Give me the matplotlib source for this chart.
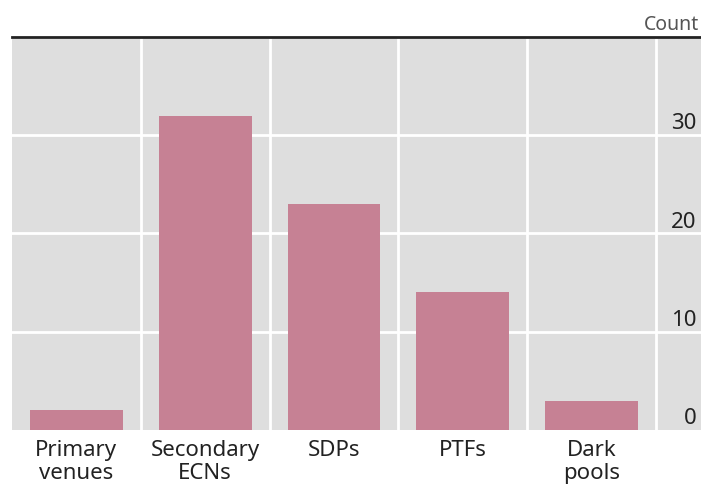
import numpy as np
import matplotlib
matplotlib.use("Agg")
import matplotlib.pyplot as plt
import matplotlib.transforms as mtransforms

plt.rcParams['font.family'] = ['Noto Sans', 'DejaVu Sans']

categories = ["Primary\nvenues", "Secondary\nECNs", "SDPs", "PTFs", "Dark\npools"]
counts = [2, 32, 23, 14, 3]
y_ticks = [0, 10, 20, 30]
unit_label = "Count"

bar_color = "#c68194"
panel_grey = "#dedede"

fig = plt.figure(figsize=(7.01, 4.92), dpi=100)
ax = fig.add_axes([12 / 701, 62 / 492, 689 / 701, 393 / 492])
ax.set_facecolor(panel_grey)

x = np.arange(len(categories))
ax.bar(x, counts, width=0.72, color=bar_color, zorder=3)

ax.set_xlim(-0.5, 4.85)
ax.set_ylim(0, 40)

# white grid: horizontal at ticks, vertical between categories
for t in y_ticks[1:] + [40]:
    ax.axhline(t, color="white", lw=2, zorder=1)
for b in np.arange(len(categories)) + 0.5:
    ax.axvline(b, color="white", lw=2, zorder=1)

for s in ["left", "right", "bottom"]:
    ax.spines[s].set_visible(False)
ax.spines["top"].set_color("#222222")
ax.spines["top"].set_linewidth(2)
ax.spines["top"].set_zorder(5)

ax.set_yticks([])
ax.set_xticks(x)
ax.set_xticklabels(categories, fontsize=16, color="#222222", linespacing=1.15)
ax.tick_params(axis="x", length=0, pad=7)

# value labels sit just above each gridline, inside the panel on the right
lbl_tf = mtransforms.blended_transform_factory(ax.transAxes, ax.transData)
lbl_tf = lbl_tf + mtransforms.ScaledTranslation(0, 6 / 100, fig.dpi_scale_trans)
for t in y_ticks:
    ax.text(0.994, t, str(t), transform=lbl_tf, ha="right", va="baseline",
            fontsize=16, color="#222222", zorder=6)

fig.text(699 / 701, 1 - 30 / 492, unit_label, ha="right", va="baseline",
         fontsize=14, color="#555555")

fig.savefig("out.png", dpi=100)
